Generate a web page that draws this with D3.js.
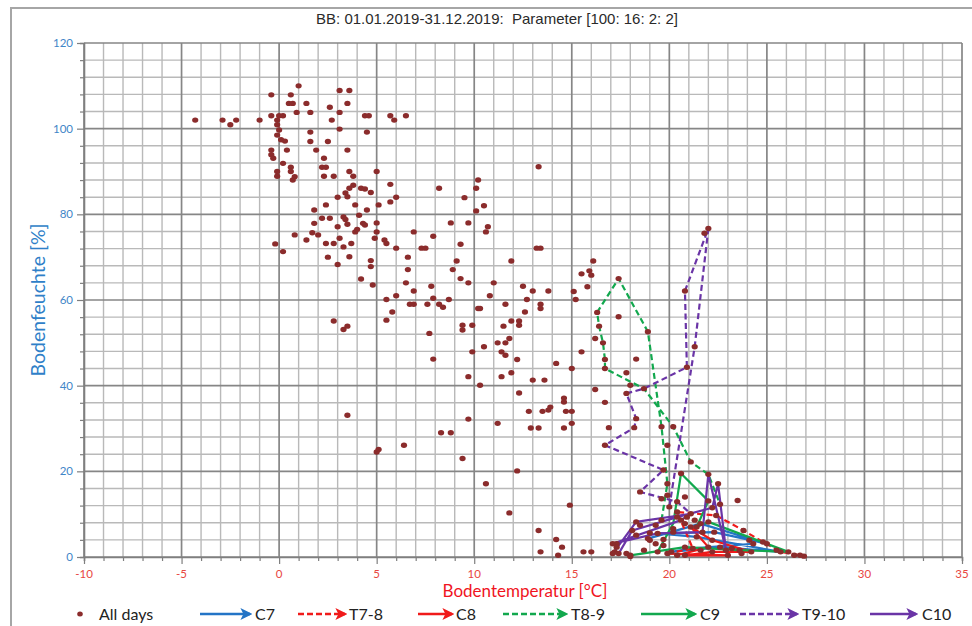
<!DOCTYPE html>
<html>
<head>
<meta charset="utf-8">
<script src="https://cdn.jsdelivr.net/npm/d3@7"></script>
<style>
  html, body { margin: 0; padding: 0; background: #fff; }
  svg { display: block; }
  text { white-space: pre; }
</style>
</head>
<body>
<svg id="chart" width="972" height="626"></svg>
<script>
// Soil temperature [°C] vs. soil moisture [%], every day of 2019
const allDays = [
  [-4.3,102.0],[-2.9,102.0],[-2.5,100.9],[-2.2,102.0],[-1.0,102.0],[-0.4,107.9],[-0.4,103.0],[0.0,103.0],[0.2,103.0],[-0.1,102.0],
  [-0.1,100.9],[0.0,99.7],[-0.1,98.5],[0.1,97.4],[0.3,97.1],[-0.4,95.0],[-0.4,93.9],[-0.3,93.1],[-0.1,90.0],[-0.1,88.9],
  [0.2,91.9],[0.4,95.0],[0.6,91.0],[0.6,90.0],[0.8,88.8],[0.7,88.0],[1.0,110.0],[0.6,107.9],[0.5,105.9],[0.7,105.9],
  [0.9,103.8],[1.4,105.9],[1.6,103.8],[1.6,99.2],[1.6,97.0],[1.9,95.0],[2.3,93.1],[2.2,91.0],[2.4,91.0],[2.3,88.9],
  [2.8,88.9],[2.6,105.0],[2.7,102.0],[3.1,108.9],[3.6,108.9],[3.5,105.9],[3.1,103.8],[3.1,99.9],[2.5,97.0],[3.5,95.0],
  [3.6,90.0],[3.8,88.9],[4.4,103.0],[4.6,103.0],[4.5,99.2],[5.0,90.0],[5.7,103.0],[5.9,102.0],[6.5,103.0],[5.7,87.0],
  [6.0,84.0],[5.7,82.9],[3.8,86.8],[3.6,86.1],[3.4,85.0],[4.2,86.1],[4.4,85.9],[4.7,85.1],[3.0,84.0],[3.5,84.1],
  [2.4,82.2],[1.8,81.0],[3.9,82.2],[4.5,81.0],[5.1,82.2],[2.2,79.1],[2.6,79.1],[3.3,79.4],[3.4,78.8],[3.0,77.1],
  [3.5,77.7],[4.1,79.8],[4.3,77.9],[4.4,77.5],[5.0,78.0],[3.9,75.9],[4.0,76.5],[1.8,77.9],[1.7,75.7],[2.0,75.2],
  [1.4,74.0],[0.8,75.2],[-0.2,73.1],[0.2,71.3],[2.4,73.2],[2.8,73.2],[3.1,74.4],[3.3,72.4],[3.7,73.2],[4.9,74.4],
  [5.0,75.9],[5.4,74.0],[5.5,73.2],[2.5,70.0],[3.0,68.3],[3.6,70.1],[4.7,69.2],[4.7,67.8],[6.6,70.0],[6.9,75.9],
  [6.0,72.1],
  [8.2,86.1],[9.5,83.9],[10.2,88.0],[10.1,86.1],[10.5,82.0],[10.1,80.8],[13.3,91.1],[8.8,78.0],[9.7,78.0],[10.7,77.1],
  [10.6,75.9],[7.9,74.9],[7.3,72.1],[7.5,72.1],[9.3,73.0],[9.1,69.1],[6.6,67.1],[8.9,67.1],[11.9,69.1],[13.2,72.1],
  [13.4,72.1],[6.5,64.0],[7.8,63.2],[9.3,65.0],[9.7,64.0],[11.0,64.0],[10.8,61.0],[5.5,60.1],[6.0,61.0],[6.9,62.1],
  [6.7,59.0],[6.9,59.0],[7.6,59.0],[7.9,60.4],[8.2,59.0],[8.4,58.3],[8.7,60.1],[10.2,58.0],[10.3,58.0],[11.6,59.0],
  [12.5,63.2],[13.0,62.1],[13.8,62.1],[12.7,60.1],[13.4,59.0],[13.4,58.0],[12.6,57.2],[5.8,57.2],[5.5,55.3],[7.7,52.2],
  [9.4,54.1],[9.4,53.0],[9.9,54.1],[11.9,55.1],[12.3,55.1],[12.3,54.1],[11.5,53.9],[11.2,50.0],[11.6,50.0],[11.8,51.0],
  [9.9,47.9],[10.5,49.1],[11.4,47.9],[11.6,47.1],[12.2,46.1],[7.9,46.2],[9.7,42.1],[11.4,42.1],[11.9,43.0],[10.3,40.1],
  [12.3,38.3],[13.0,41.3],[13.6,41.3],[14.2,45.2],[15.0,44.0],[14.6,37.1],[15.5,47.9],[15.1,62.0],[15.2,60.1],[15.5,66.1],
  [15.9,66.8],[16.0,65.8],[15.8,63.1],[16.1,69.1],[17.4,65.0],[16.3,57.1],[16.4,53.9],[16.6,50.0],[16.7,46.1],[16.7,44.0],
  [17.4,56.1],[16.2,51.0],[16.2,39.1],[17.8,43.0],[17.8,38.2],
  [4.2,64.9],[4.8,63.5],[2.8,55.1],[3.3,53.1],[3.5,53.9],[9.7,32.2],[8.3,29.0],[8.8,29.0],[6.4,26.1],[5.0,24.5],
  [5.1,25.1],[3.5,33.1],[9.4,23.0],[10.6,17.1],[11.2,31.2],[12.2,20.1],[11.8,10.3],[12.8,34.0],[13.3,30.1],[12.9,30.1],
  [13.5,34.0],[13.8,34.3],[13.9,35.0],[14.6,36.2],[14.7,34.0],[15.0,34.0],[15.0,31.2],[14.6,30.1],[14.9,12.1],[13.3,6.2],
  [14.2,4.1],[14.5,2.3],[13.4,1.2],[14.3,0.4],[15.6,1.2],[16.0,1.2],[16.7,36.1],[16.9,30.2],[16.7,26.1],[17.2,1.2],
  [17.3,3.1],
  [18.3,46.2],[18.0,40.1],[18.7,39.3],[18.3,32.3],[18.2,30.2],[18.9,52.6],[20.8,62.1],[21.3,49.1],[20.9,44.3],[19.6,30.4],
  [20.2,30.4],[19.9,26.1],[21.1,22.2],[19.7,20.3],[19.9,17.1],[22.0,19.3],[22.5,17.1],[18.5,15.2],[20.8,14.0],[20.4,12.9],
  [23.5,13.2],[22.2,11.5],[22.4,9.7],[20.9,9.3],[20.6,8.6],[21.3,8.6],[21.4,7.0],[18.1,6.2],[18.3,5.1],[19.0,5.6],
  [20.2,6.6],[19.7,4.1],[17.1,3.1],[17.4,0.8],[17.8,0.8],[18.0,0.4],[18.7,1.6],[19.4,1.2],[20.1,1.2],[20.8,0.4],
  [21.6,1.6],[22.2,1.2],[23.0,0.4],[23.7,0.8],[24.2,1.2],[22.0,2.3],[22.2,3.9],[21.6,7.8],[21.7,5.8],
  [19.9,14.4],[20.6,19.5],[22.0,13.1],[22.6,12.3],[18.3,8.2],[19.6,8.6],[20.4,9.3],[20.8,7.8],[21.1,7.0],[19.3,7.4],
  [19.4,5.5],[19.0,3.9],[17.3,2.3],[18.0,0.1],[17.1,0.8],[22.0,8.2],[22.3,5.8],[24.1,3.9],[24.3,3.1],[24.8,3.5],
  [25.0,3.1],[22.6,2.3],[23.2,2.0],[23.6,1.6],[25.5,1.6],[26.1,1.2],[26.4,0.4],[26.9,0.2],[23.8,6.2],[25.7,1.2],
  [26.7,0.4],[19.6,13.6],[20.0,11.7],[20.4,10.5],[21.1,10.1],[18.5,7.4],[18.9,4.3],[19.3,3.1],[19.7,2.7],[20.2,5.8],
  [21.4,4.7],[20.8,2.3],[21.2,2.0],[19.9,0.8],[20.4,0.4],[22.0,76.7],[21.8,75.6],[22.9,1.6]
];

// Daily paths through the hottest weeks (class / transition series)
const c7 = [[18.9,4.3],[21.6,7.8],[25.0,3.1],[22.3,5.8],[19.4,5.5],[21.4,4.7],[25.7,1.2],[22.6,2.3],[20.1,1.2],[21.2,2.0],[24.3,3.1]];
const t7_8 = [[19.9,0.8],[21.2,2.0],[20.4,10.5],[22.4,9.7],[23.8,6.2],[24.8,3.5],[25.7,1.2],[26.7,0.4]];
const c8 = [[20.4,0.4],[22.0,2.3],[21.1,7.0],[22.2,3.9],[24.2,1.2],[22.2,1.2],[20.8,0.4],[23.0,0.4],[19.9,0.8]];
const t8_9 = [[19.6,8.6],[19.9,17.1],[19.6,30.4],[18.9,52.6],[17.4,65.0],[16.3,57.1],[16.4,53.9],[16.6,50.0],[16.7,46.1],[16.7,44.0],[18.7,39.3],[20.2,30.4],[21.1,22.2],[22.0,19.3],[22.6,12.3]];
const c9 = [[19.4,1.2],[20.2,7.8],[20.6,19.5],[22.0,13.1],[21.4,7.0],[22.0,8.2],[26.1,1.2],[23.6,1.6],[20.8,2.3],[18.0,0.4]];
const t9_10 = [[20.0,11.7],[21.3,49.1],[22.0,76.7],[20.8,62.1],[20.9,44.3],[18.7,39.3],[17.8,38.2],[18.3,32.3],[18.2,30.2],[16.7,26.1],[19.7,20.3],[18.5,15.2],[20.4,12.9],[21.1,10.1]];
const c10 = [[17.1,0.8],[18.3,8.2],[21.1,10.1],[20.6,8.6],[17.1,3.1],[19.4,5.5],[21.7,5.8],[22.0,19.3],[22.9,1.6],[22.5,17.1],[22.2,11.5],[20.4,9.3],[18.1,6.2],[17.4,0.8]];

const xTicks = [-10, -5, 0, 5, 10, 15, 20, 25, 30, 35];
const yTicks = [0, 20, 40, 60, 80, 100, 120];

const chartTitle = "BB: 01.01.2019-31.12.2019:  Parameter [100: 16: 2: 2]";
const xTitle = "Bodentemperatur [°C]";
const yTitle = "Bodenfeuchte [%]";

const seriesList = [
  { name: "C7",    data: c7,    color: "#2374c6", dashed: false },
  { name: "T7-8",  data: t7_8,  color: "#f01a1a", dashed: true  },
  { name: "C8",    data: c8,    color: "#f01a1a", dashed: false },
  { name: "T8-9",  data: t8_9,  color: "#12a84e", dashed: true  },
  { name: "C9",    data: c9,    color: "#12a84e", dashed: false },
  { name: "T9-10", data: t9_10, color: "#6a34a6", dashed: true  },
  { name: "C10",   data: c10,   color: "#6a34a6", dashed: false }
];

const svg = d3.select("#chart");
const dotColor = "#8b2c2c";

// outer frame of the chart area
svg.append("path")
  .attr("d", "M11,626 L11,8 L972,8")
  .attr("fill", "none").attr("stroke", "#a6a6a6").attr("stroke-width", 2);

const x = d3.scaleLinear().domain([-10, 35]).range([84, 962]);
const y = d3.scaleLinear().domain([0, 120]).range([557, 43]);

const grid = svg.append("g");
// minor grid: 1 °C and 4 %
grid.selectAll("line.mx").data(d3.range(-10, 36, 1).filter(v => v % 5 !== 0)).join("line")
  .attr("x1", d => x(d)).attr("x2", d => x(d)).attr("y1", y(0)).attr("y2", y(120))
  .attr("stroke", "#b9b9b9").attr("stroke-width", 1.4);
grid.selectAll("line.my").data(d3.range(0, 121, 4).filter(v => v % 20 !== 0)).join("line")
  .attr("x1", x(-10)).attr("x2", x(35)).attr("y1", d => y(d)).attr("y2", d => y(d))
  .attr("stroke", "#b9b9b9").attr("stroke-width", 1.4);
// major grid
grid.selectAll("line.Mx").data(xTicks).join("line")
  .attr("x1", d => x(d)).attr("x2", d => x(d)).attr("y1", y(0)).attr("y2", y(120))
  .attr("stroke", "#868686").attr("stroke-width", 1.7);
grid.selectAll("line.My").data(yTicks).join("line")
  .attr("x1", x(-10)).attr("x2", x(35)).attr("y1", d => y(d)).attr("y2", d => y(d))
  .attr("stroke", "#868686").attr("stroke-width", 1.7);

// axes
const xAxis = d3.axisBottom(x).tickValues(d3.range(-10, 36, 1)).tickSize(4).tickFormat("");
const yAxis = d3.axisLeft(y).tickValues(d3.range(0, 121, 4)).tickSize(4).tickFormat("");
const gx = svg.append("g").attr("transform", `translate(0,${y(0)})`).call(xAxis);
const gy = svg.append("g").attr("transform", `translate(${x(-10)},0)`).call(yAxis);
[gx, gy].forEach(g => {
  g.select(".domain").attr("stroke", "#7f7f7f").attr("stroke-width", 1.6);
  g.selectAll(".tick line").attr("stroke", "#7f7f7f").attr("stroke-width", 1.2);
});
gx.selectAll(".tick line").filter(d => d % 5 === 0).attr("y2", 7);
gy.selectAll(".tick line").filter(d => d % 20 === 0).attr("x2", -7);

const labelFont = "Lato, 'Open Sans', sans-serif";
svg.append("g").selectAll("text").data(xTicks).join("text")
  .attr("x", d => x(d)).attr("y", 578).attr("text-anchor", "middle")
  .attr("font-family", labelFont).attr("font-size", 11.5).attr("fill", "#e8473f")
  .text(d => d);
svg.append("g").selectAll("text").data(yTicks).join("text")
  .attr("x", 73).attr("y", d => y(d) + 4).attr("text-anchor", "end")
  .attr("font-family", labelFont).attr("font-size", 11.5).attr("fill", "#3f86c8")
  .text(d => d);

// titles
svg.append("text").attr("x", 497).attr("y", 24).attr("text-anchor", "middle")
  .attr("font-family", "'Liberation Sans', Arial, sans-serif").attr("font-size", 15).attr("fill", "#2a2a2a")
  .text(chartTitle);
svg.append("text").attr("x", 525).attr("y", 597).attr("text-anchor", "middle")
  .attr("font-family", labelFont).attr("font-size", 17).attr("fill", "#f0141e")
  .text(xTitle);
svg.append("text").attr("transform", `translate(45,${y(60)}) rotate(-90)`).attr("text-anchor", "middle")
  .attr("font-family", labelFont).attr("font-size", 19.5).attr("fill", "#2f7fc8")
  .text(yTitle);

// arrow heads for the legend keys
const defs = svg.append("defs");
seriesList.forEach((s, i) => {
  defs.append("marker").attr("id", "arr" + i)
    .attr("viewBox", "0 0 10 10").attr("refX", 8).attr("refY", 5)
    .attr("markerWidth", 5).attr("markerHeight", 5).attr("orient", "auto")
    .attr("markerUnits", "strokeWidth")
    .append("path").attr("d", "M0,0 L10,5 L0,10 L2.5,5 Z").attr("fill", s.color);
});

// series paths
const line = d3.line().x(d => x(d[0])).y(d => y(d[1]));
const lines = svg.append("g");
seriesList.forEach(s => {
  lines.append("path").datum(s.data).attr("d", line)
    .attr("fill", "none").attr("stroke", s.color).attr("stroke-width", 2.2)
    .attr("stroke-linejoin", "round")
    .attr("stroke-dasharray", s.dashed ? "6,3.5" : null);
});

// all days scatter
svg.append("g").selectAll("ellipse").data(allDays).join("ellipse")
  .attr("cx", d => x(d[0])).attr("cy", d => y(d[1]))
  .attr("rx", 3.1).attr("ry", 2.7).attr("fill", dotColor);

// legend
const legend = svg.append("g").attr("font-family", labelFont).attr("font-size", 16).attr("fill", "#222");
legend.append("ellipse").attr("cx", 80).attr("cy", 614).attr("rx", 2.8).attr("ry", 2.5).attr("fill", dotColor);
legend.append("text").attr("x", 99).attr("y", 620).text("All days");
const legendPos = [
  { x0: 200, x1: 250, tx: 255 },
  { x0: 298, x1: 345, tx: 349 },
  { x0: 418, x1: 452, tx: 456 },
  { x0: 503, x1: 566, tx: 571 },
  { x0: 641, x1: 695, tx: 700 },
  { x0: 740, x1: 797, tx: 802 },
  { x0: 870, x1: 916, tx: 922 }
];
seriesList.forEach((s, i) => {
  const p = legendPos[i];
  legend.append("line").attr("x1", p.x0).attr("x2", p.x1).attr("y1", 614).attr("y2", 614)
    .attr("stroke", s.color).attr("stroke-width", 2.4)
    .attr("stroke-dasharray", s.dashed ? "6,3" : null)
    .attr("marker-end", `url(#arr${i})`);
  legend.append("text").attr("x", p.tx).attr("y", 620).text(s.name);
});
</script>
</body>
</html>
